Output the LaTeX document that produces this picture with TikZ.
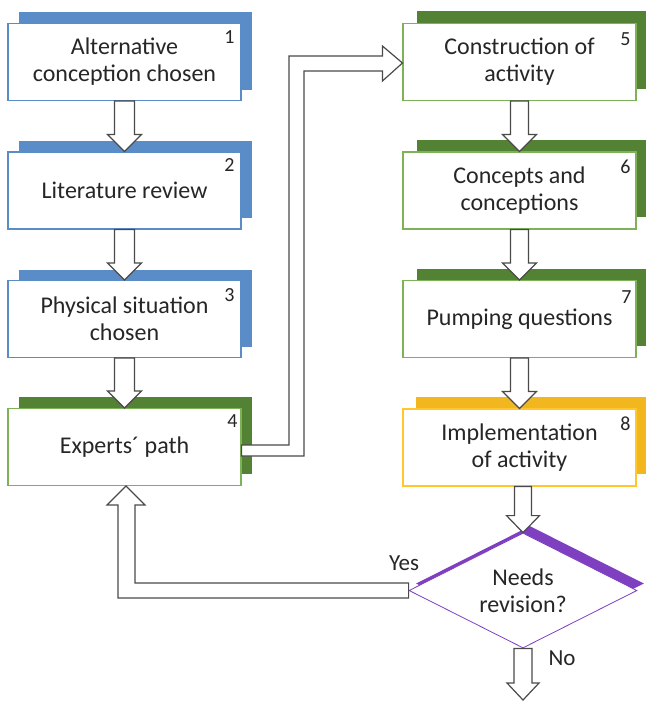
\documentclass[tikz,border=0pt]{standalone}
\usepackage{fontspec}
\setmainfont{Carlito}
\usetikzlibrary{calc,shapes.geometric,shadows}
\definecolor{boxblue}{HTML}{5A8DC8}
\definecolor{boxgreen}{HTML}{548235}
\definecolor{boxgreenlt}{HTML}{7DB356}
\definecolor{boxyellow}{HTML}{F2B71E}
\definecolor{boxyellowlt}{HTML}{FFC72C}
\definecolor{boxpurple}{HTML}{7E3FC0}
\definecolor{arrowgray}{HTML}{4A4A4A}
\definecolor{txt}{HTML}{262626}
\newcommand\hollowdown[4]{%
  \draw[harrow] let \p1=(#1), \p2=(#2) in
    (\x2-#3,\y1) -- (\x2-#3,\y2+17pt) -- (\x2-#4,\y2+17pt) -- (\x2,\y2)
    -- (\x2+#4,\y2+17pt) -- (\x2+#3,\y2+17pt) -- (\x2+#3,\y1) -- cycle;}
\tikzset{
  box/.style={rectangle, minimum width=233pt, minimum height=77pt, fill=white,
    line width=1.1pt, align=center, inner sep=0pt, text=txt,
    font=\fontsize{24}{27}\selectfont},
  bluebox/.style={box, draw=boxblue,
    general shadow={fill=boxblue, shadow xshift=11pt, shadow yshift=11pt}},
  greenboxl/.style={box, draw=boxgreenlt,
    general shadow={fill=boxgreen, shadow xshift=11pt, shadow yshift=12pt}},
  greenbox/.style={box, draw=boxgreenlt,
    general shadow={fill=boxgreen, shadow xshift=14pt, shadow yshift=12pt}},
  yellowbox/.style={box, draw=boxyellowlt,
    general shadow={fill=boxyellow, shadow xshift=13pt, shadow yshift=12pt}},
  decision/.style={diamond, aspect=2, minimum width=228pt, minimum height=115pt,
    inner sep=0pt, fill=white, draw=boxpurple, line width=0.8pt, align=center,
    text=txt, font=\fontsize{24}{27}\selectfont,
    general shadow={fill=boxpurple, shadow xshift=7pt, shadow yshift=7pt}},
  num/.style={inner sep=0pt, text=txt, font=\fontsize{20}{20}\selectfont},
  lbl/.style={inner sep=0pt, text=txt, font=\fontsize{23}{23}\selectfont},
  harrow/.style={draw=arrowgray, fill=white, line width=1.2pt, line join=miter},
}
\begin{document}
\begin{tikzpicture}[x=1pt,y=-1pt]
\useasboundingbox (0,0) rectangle (645,701);
% left column
\node[bluebox] (b1) at (124.5,62) {Alternative\\conception chosen};
\node[bluebox] (b2) at (124.5,190.5) {Literature review};
\node[bluebox] (b3) at (124.5,319) {Physical situation\\chosen};
\node[greenboxl] (b4) at (124.5,447) {Experts´ path};
% right column
\node[greenbox] (b5) at (519.5,62) {Construction of\\activity};
\node[greenbox] (b6) at (519.5,190.5) {Concepts and\\conceptions};
\node[greenbox] (b7) at (519.5,319) {Pumping questions};
\node[yellowbox] (b8) at (519.5,447.5) {Implementation\\of activity};
% decision
\node[decision] (dec) at (523,590.5) {Needs\\revision?};
\coordinate (endpt) at (523,700);
% numbers
\node[num] (n1) at ($(b1.north east)+(-12,14)$) {1};
\node[num] (n2) at ($(b2.north east)+(-12,14)$) {2};
\node[num] (n3) at ($(b3.north east)+(-12,15)$) {3};
\node[num] (n4) at ($(b4.north east)+(-9,13)$) {4};
\node[num] (n5) at ($(b5.north east)+(-11,16)$) {5};
\node[num] (n6) at ($(b6.north east)+(-11,15)$) {6};
\node[num] (n7) at ($(b7.north east)+(-10,17)$) {7};
\node[num] (n8) at ($(b8.north east)+(-11,15)$) {8};
% labels
\node[lbl] (yes) at (404,563) {Yes};
\node[lbl] (no) at (562,658) {No};
% vertical hollow arrows
\hollowdown{b1.south}{b2.north}{10pt}{17pt}
\hollowdown{b2.south}{b3.north}{10pt}{17pt}
\hollowdown{b3.south}{b4.north}{10pt}{17pt}
\hollowdown{b5.south}{b6.north}{9pt}{17pt}
\hollowdown{b6.south}{b7.north}{9pt}{17pt}
\hollowdown{b7.south}{b8.north}{9pt}{17pt}
\hollowdown{b8.south}{dec.north}{8.5pt}{16.5pt}
\hollowdown{dec.south}{endpt}{9pt}{16pt}
% 4 -> 5
\draw[harrow] let \p1=(b4.east), \p2=(b5.west) in
  (\x1,\y1+2pt) -- (289pt,\y1+2pt) -- (289pt,\y2+6pt) -- (\x2-20pt,\y2+6pt)
  -- (\x2-20pt,\y2+16pt) -- (\x2,\y2-1pt) -- (\x2-20pt,\y2-19pt) -- (\x2-20pt,\y2-9pt)
  -- (304pt,\y2-9pt) -- (304pt,\y1-9pt) -- (\x1,\y1-9pt) -- cycle;
% Yes -> 4
\draw[harrow] let \p1=(dec.west), \p2=(b4.south) in
  (\x1,\y1+7.5pt) -- (\x2+10.5pt,\y1+7.5pt) -- (\x2+10.5pt,\y2-19pt) -- (\x2+20.5pt,\y2-19pt)
  -- (\x2+1.5pt,\y2) -- (\x2-17.5pt,\y2-19pt) -- (\x2-6.5pt,\y2-19pt) -- (\x2-6.5pt,\y1-7.5pt)
  -- (\x1,\y1-7.5pt) -- cycle;
\end{tikzpicture}
\end{document}
